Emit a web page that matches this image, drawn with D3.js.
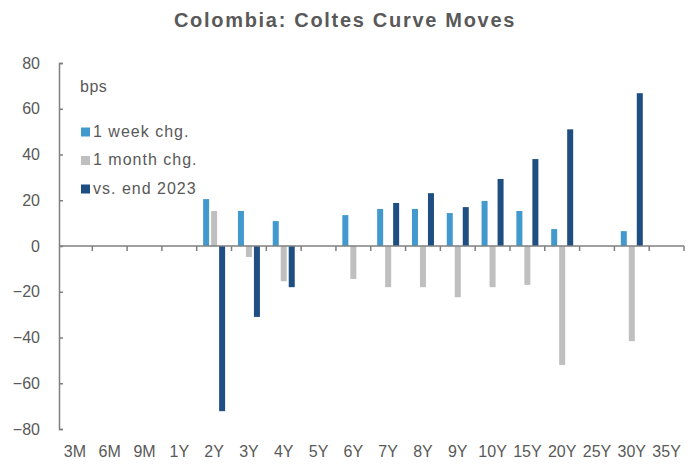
<!DOCTYPE html>
<html>
<head>
<meta charset="utf-8">
<script src="https://cdn.jsdelivr.net/npm/d3@7"></script>
<style>
  body { margin: 0; background: #fff; }
  svg text { font-family: "Liberation Sans", Arial, sans-serif; fill: #595959; }
</style>
</head>
<body>
<script>
// chart data
const tenors = ["3M","6M","9M","1Y","2Y","3Y","4Y","5Y","6Y","7Y","8Y","9Y","10Y","15Y","20Y","25Y","30Y","35Y"]
const weekChg = [null,null,null,null,20.5,15.3,10.9,null,13.5,16.2,16.2,14.4,19.7,15.3,7.4,null,6.5,null]
const monthChg = [null,null,null,null,15.3,-4.8,-15.4,null,-14.4,-18,-18,-22.4,-18,-17,-52,null,-41.6,null]
const vsEnd2023 = [null,null,null,null,-72.2,-31,-18,null,null,18.8,23.1,17,29.3,38,51,null,66.8,null]
const yTicks = [80,60,40,20,0,-20,-40,-60,-80]
const seriesNames = ["1 week chg.","1 month chg.","vs. end 2023"]
const colors = ["#4199CD","#BFBFBF","#1F4E82"]

let w = 698, h = 467
let svg = d3.select("body").append("svg").attr("width", w).attr("height", h)

svg.append("text")
    .attr("x", 345).attr("y", 27)
    .attr("text-anchor", "middle")
    .style("font-size", "20px").style("font-weight", "bold")
    .style("letter-spacing", "1.7px")
    .text("Colombia: Coltes Curve Moves")

let xScale = d3.scaleBand().domain(tenors).range([57.5, 684])
let yScale = d3.scaleLinear().domain([-80, 80]).range([429, 63])

let series = [weekChg, monthChg, vsEnd2023]
let offsets = [-8, 0, 8]
let bw = 6

series.forEach((vals, i) => {
    let rows = tenors.map((t, j) => ({t: t, v: vals[j]})).filter(d => d.v !== null)
    svg.append("g").selectAll("rect")
        .data(rows)
        .enter()
        .append("rect")
        .attr("x", d => xScale(d.t) + xScale.bandwidth()/2 + offsets[i] - bw/2)
        .attr("y", d => yScale(Math.max(0, d.v)))
        .attr("width", bw)
        .attr("height", d => Math.abs(yScale(d.v) - yScale(0)))
        .attr("fill", colors[i])
})

// y axis
let yAxis = d3.axisRight(yScale).tickValues(yTicks).tickSize(4).tickFormat(d3.format("d"))
let gy = svg.append("g").attr("transform", "translate(59,0)").call(yAxis)
gy.select(".domain").attr("stroke", "#7f7f7f").attr("stroke-width", 1.5)
gy.selectAll(".tick line").attr("stroke", "#7f7f7f").attr("stroke-width", 1.5)
gy.selectAll(".tick text")
    .attr("x", -19).attr("text-anchor", "end")
    .style("font-size", "16px").attr("fill", "#595959")

// x axis line at zero with ticks between categories
let x0 = yScale(0)
svg.append("line")
    .attr("x1", 59).attr("x2", 684)
    .attr("y1", x0).attr("y2", x0)
    .attr("stroke", "#7f7f7f").attr("stroke-width", 1.5)
svg.append("g").selectAll("line")
    .data(tenors.slice(1).concat(["end"]))
    .enter()
    .append("line")
    .attr("x1", (d, i) => xScale(tenors[0]) + (i + 1) * xScale.step())
    .attr("x2", (d, i) => xScale(tenors[0]) + (i + 1) * xScale.step())
    .attr("y1", x0).attr("y2", x0 + 5)
    .attr("stroke", "#7f7f7f").attr("stroke-width", 1.5)

svg.append("g").selectAll("text")
    .data(tenors)
    .enter()
    .append("text")
    .attr("x", d => xScale(d) + xScale.bandwidth()/2)
    .attr("y", 457)
    .attr("text-anchor", "middle")
    .style("font-family", "'Liberation Sans Narrow', 'Arial Narrow', sans-serif")
    .style("font-size", "16px")
    .text(d => d)

// legend
svg.append("text").attr("x", 80).attr("y", 92).style("font-size", "16px").style("letter-spacing", "0.5px").text("bps")
let legend = svg.append("g").selectAll("g")
    .data(seriesNames)
    .enter()
    .append("g")
    .attr("transform", (d, i) => "translate(81," + (136.5 + i * 28.5) + ")")
legend.append("rect").attr("x", 0).attr("y", -9).attr("width", 9).attr("height", 9)
    .attr("fill", (d, i) => colors[i])
legend.append("text").attr("x", 12).attr("y", 0)
    .style("font-size", "16px").style("letter-spacing", "1px")
    .text(d => d)
</script>
</body>
</html>
